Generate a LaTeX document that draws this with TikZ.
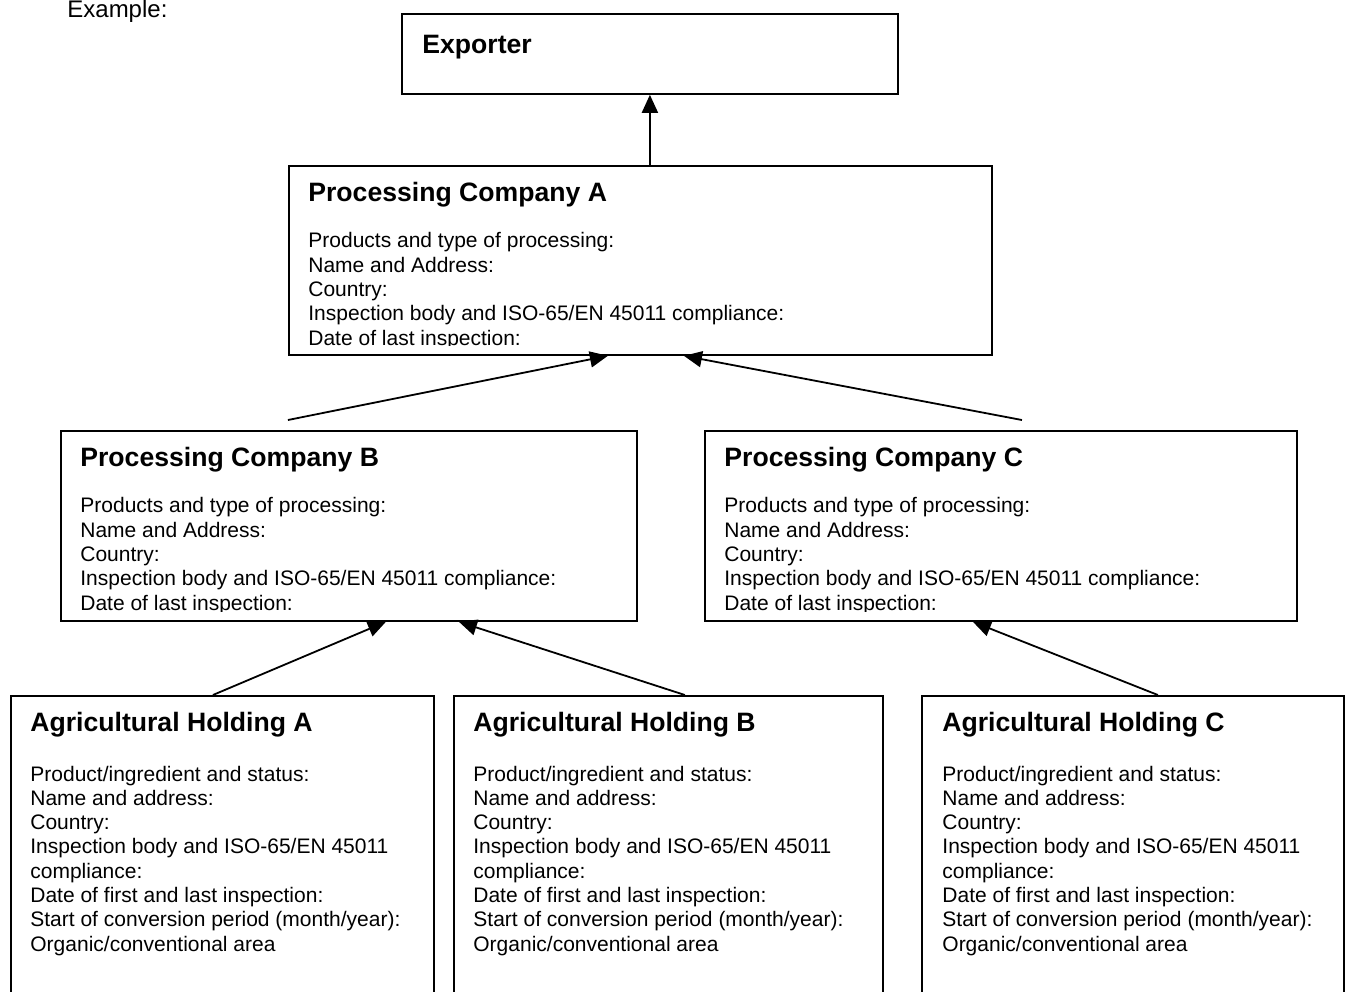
\documentclass[tikz,border=0pt]{standalone}
\usepackage{fontspec}
\setmainfont{Liberation Sans}
\usetikzlibrary{arrows.meta}
\newcommand{\proctext}{Products and type of processing:\\Name and Address:\\Country:\\Inspection body and ISO-65/EN 45011 compliance:\\Date of last inspection:}
\newcommand{\farmtext}{Product/ingredient and status:\\Name and address:\\Country:\\Inspection body and ISO-65/EN 45011\\compliance:\\Date of first and last inspection:\\Start of conversion period (month/year):\\Organic/conventional area}
\begin{document}
\begin{tikzpicture}[x=0.5pt,y=-0.5pt,>={Triangle[length=9pt,width=8pt]},
  box/.style={draw,line width=0.9pt,anchor=north west,inner sep=0pt},
  title/.style={anchor=base west,inner sep=0pt,font=\fontsize{13.3}{15}\selectfont\bfseries},
  body/.style={anchor=base west,inner sep=0pt,align=left,font=\fontsize{10.5}{12.13}\selectfont},
  link/.style={->,line width=0.9pt}]
\clip (0,0) rectangle (1348,991);
\node[anchor=base west,inner sep=0pt,font=\fontsize{12}{14}\selectfont] (ex) at (67,17) {Example:};
% boxes
\node[box,minimum width=248pt,minimum height=40pt] (exp) at (401,13) {};
\node[box,minimum width=351.5pt,minimum height=94.5pt] (pca) at (288,165) {};
\node[box,minimum width=288pt,minimum height=95pt] (pcb) at (60,430) {};
\node[box,minimum width=296pt,minimum height=95pt] (pcc) at (704,430) {};
\node[box,minimum width=211.5pt,minimum height=155pt] (aha) at (10,695) {};
\node[box,minimum width=214.5pt,minimum height=155pt] (ahb) at (453,695) {};
\node[box,minimum width=211pt,minimum height=155pt] (ahc) at (921,695) {};
% titles
\node[title] (expt) at ([shift={(21,40)}]exp.north west) {Exporter};
\node[title] (pcat) at ([shift={(20,36)}]pca.north west) {Processing Company A};
\node[title] (pcbt) at ([shift={(20,36)}]pcb.north west) {Processing Company B};
\node[title] (pcct) at ([shift={(20,36)}]pcc.north west) {Processing Company C};
\node[title] (ahat) at ([shift={(20,36)}]aha.north west) {Agricultural Holding A};
\node[title] (ahbt) at ([shift={(20,36)}]ahb.north west) {Agricultural Holding B};
\node[title] (ahct) at ([shift={(21,36)}]ahc.north west) {Agricultural Holding C};
% text (base = last line), cut off at the bottom of the box
\foreach \b in {pca,pcb,pcc}
{
  \begin{scope}
    \clip (\b.north west) rectangle ([yshift=5pt]\b.south east);
    \node[body] (\b txt) at ([shift={(20,180)}]\b.north west) {\proctext};
  \end{scope}
}
\node[body] (ahatxt) at ([shift={(20,256)}]aha.north west) {\farmtext};
\node[body] (ahbtxt) at ([shift={(20,256)}]ahb.north west) {\farmtext};
\node[body] (ahctxt) at ([shift={(21,256)}]ahc.north west) {\farmtext};
% arrows
\draw[link] (pca.north -| exp.south) -- (exp.south);
\draw[link] ([shift={(-61,-10)}]pcb.north) -- ([shift={(-32.5,0)}]pca.south);
\draw[link] ([shift={(21,-10)}]pcc.north) -- ([shift={(43.5,0)}]pca.south);
\draw[link] ([shift={(-9.5,0)}]aha.north) -- ([shift={(37,0)}]pcb.south);
\draw[link] ([shift={(16.5,0)}]ahb.north) -- ([shift={(110,0)}]pcb.south);
\draw[link] ([shift={(25,0)}]ahc.north) -- ([shift={(-28,0)}]pcc.south);
\end{tikzpicture}
\end{document}
